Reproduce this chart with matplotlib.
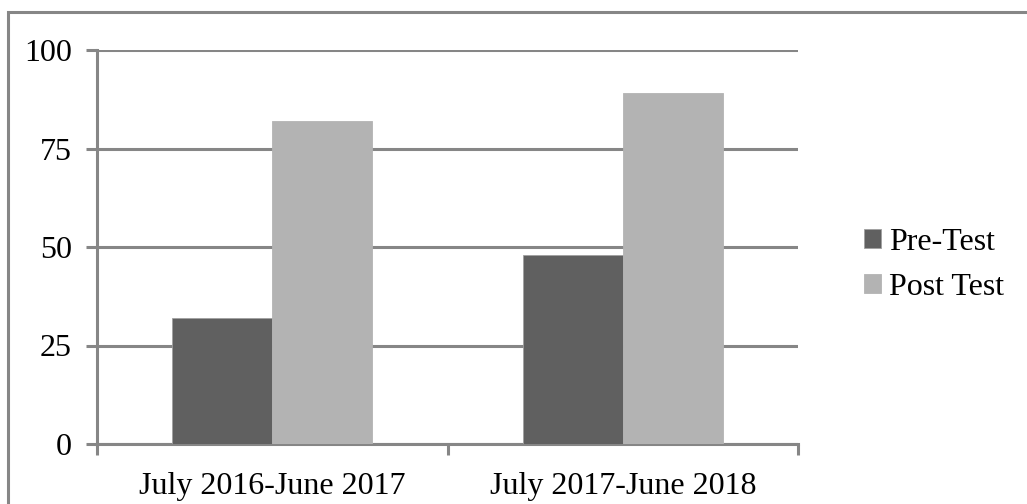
import numpy as np
import matplotlib.pyplot as plt
from matplotlib.patches import Rectangle

periods = ['July 2016-June 2017', 'July 2017-June 2018']
pre_test = [32, 48]
post_test = [82, 89]

plt.rcParams['font.family'] = ['Liberation Serif', 'DejaVu Serif']

fig = plt.figure(figsize=(10.27, 5.04), dpi=100)
ax = fig.add_axes([97 / 1027, 60 / 504, 701 / 1027, 394 / 504])

grey = '#868686'
x = np.arange(len(periods))
w = 0.285
ax.bar(x - w / 2, pre_test, w, color='#606060', edgecolor='#a0a0a0', linewidth=0.6,
       label='Pre-Test', zorder=3)
ax.bar(x + w / 2, post_test, w, color='#b3b3b3', edgecolor='#b3b3b3', linewidth=0.6,
       label='Post Test', zorder=3)

ax.set_xlim(-0.5, 1.5)
ax.set_ylim(0, 100)
ax.set_yticks([0, 25, 50, 75, 100])
ax.yaxis.grid(True, color=grey, linewidth=2.2)
ax.set_axisbelow(True)

# category labels sit between the boundary ticks
ax.set_xticks([-0.5, 0.5, 1.5])
ax.set_xticklabels([])
ax.set_xticks(x, minor=True)
ax.set_xticklabels(periods, minor=True)
ax.tick_params(axis='x', which='minor', length=0, labelsize=23, pad=20)
ax.tick_params(axis='x', which='major', length=8, width=2.2, color=grey)
ax.tick_params(axis='y', length=8, width=2.2, color=grey, labelsize=23, pad=10)

for side in ['top', 'right']:
    ax.spines[side].set_visible(False)
for side in ['left', 'bottom']:
    ax.spines[side].set_color(grey)
    ax.spines[side].set_linewidth(2.2)

ax.legend(loc='center left', bbox_to_anchor=(1.071, 0.455), frameon=False,
          fontsize=23, handlelength=0.55, handleheight=0.55, handletextpad=0.25,
          labelspacing=0.5, borderpad=0)

# outer chart frame
fig.patches.append(Rectangle((8 / 1027, -0.1), 1.2, (504 - 12) / 504 + 0.1,
                             transform=fig.transFigure, fill=False,
                             edgecolor=grey, linewidth=2.2))

fig.savefig('out.png', dpi=100)
